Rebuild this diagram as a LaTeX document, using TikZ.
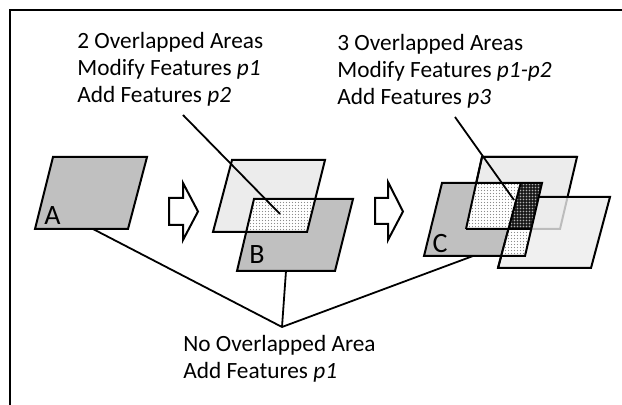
\documentclass[tikz,border=0pt]{standalone}
\usepackage{fontspec}
\setmainfont{Carlito}
\usetikzlibrary{patterns.meta}
\definecolor{sheetgray}{RGB}{192,192,192}
\definecolor{sheetlight}{RGB}{236,236,236}
% fine dot rasters used for the overlap areas
\tikzdeclarepattern{
  name=finedots,
  type=uncolored,
  bottom left={(-0.1pt,-0.1pt)},
  top right={(1.6pt,1.6pt)},
  tile size={(1.5pt,1.5pt)},
  code={\fill (0.75pt,0.75pt) circle (0.33pt);}
}
\tikzdeclarepattern{
  name=bigdots,
  type=uncolored,
  bottom left={(-0.1pt,-0.1pt)},
  top right={(1.6pt,1.6pt)},
  tile size={(1.5pt,1.5pt)},
  code={\fill (0.75pt,0.75pt) circle (0.42pt);}
}
\begin{document}
\begin{tikzpicture}[x=0.5pt,y=-0.5pt,
  txt/.style={anchor=base west, inner sep=0pt, font=\fontsize{11.65}{14}\selectfont},
  lbl/.style={inner sep=0pt, font=\fontsize{14}{16}\selectfont},
  edge/.style={line width=1pt, line join=miter},
  link/.style={line width=0.9pt},
  blockarrow/.style={draw, fill=white, line width=1pt, line join=miter},
  dotted area/.style={fill=white, postaction={pattern=finedots, pattern color=black!45}},
  dark area/.style={fill=black!90, postaction={pattern=bigdots, pattern color=white!70!black}}]

\useasboundingbox (0,0) rectangle (622,405);

% frame (top and left sides)
\draw[line width=1.1pt] (10,405) -- (10,10) -- (622,10);

% ---------- sheet A ----------
\coordinate (aBL) at (35,229);  \coordinate (aBR) at (128,229);
\coordinate (aTR) at (147,157); \coordinate (aTL) at (53,157);
\filldraw[edge, fill=sheetgray] (aBL) -- (aBR) -- (aTR) -- (aTL) -- cycle;
\node[lbl] (labA) at (52.5,216) {A};

% ---------- first block arrow ----------
\draw[blockarrow] (169,198) -- (183,198) -- (183,183) -- (198,211.5)
  -- (183,240) -- (183,225) -- (169,225) -- cycle;

% ---------- sheets of step B ----------
\coordinate (bBL) at (213,232); \coordinate (bBR) at (307,232);
\coordinate (bTR) at (325,160); \coordinate (bTL) at (232,160);
\coordinate (gBL) at (237,271); \coordinate (gBR) at (335,271);
\coordinate (gTR) at (353,199); \coordinate (gTL) at (254,199);
\fill[sheetlight] (bBL) -- (bBR) -- (bTR) -- (bTL) -- cycle;
\fill[sheetgray] (gBL) -- (gBR) -- (gTR) -- (gTL) -- cycle;
\coordinate (oTR) at (intersection of bTR--bBR and gTL--gTR);
\coordinate (oBL) at (intersection of gTL--gBL and bBL--bBR);
\path[dotted area] (gTL) -- (oTR) -- (bBR) -- (oBL) -- cycle;
\draw[edge] (bBL) -- (bBR) -- (bTR) -- (bTL) -- cycle;
\draw[edge] (gBL) -- (gBR) -- (gTR) -- (gTL) -- cycle;
\node[lbl] (labB) at (257,255) {B};

% ---------- second block arrow ----------
\draw[blockarrow] (375,198) -- (388,198) -- (388,182) -- (403,211.5)
  -- (388,240) -- (388,224) -- (375,224) -- cycle;

% ---------- sheets of step C ----------
\coordinate (sBL) at (466,229); \coordinate (sBR) at (560,229);
\coordinate (sTR) at (577,157); \coordinate (sTL) at (482,157);
\coordinate (cBL) at (424,256); \coordinate (cBR) at (525,256);
\coordinate (cTR) at (542,183); \coordinate (cTL) at (442,183);
\coordinate (tBL) at (498,268); \coordinate (tBR) at (591,268);
\coordinate (tTR) at (610,197); \coordinate (tTL) at (517,197);

\filldraw[edge, fill=sheetlight] (sBL) -- (sBR) -- (sTR) -- (sTL) -- cycle;
\fill[sheetgray] (cBL) -- (cBR) -- (cTR) -- (cTL) -- cycle;
\fill[sheetlight, fill opacity=0.8] (tBL) -- (tBR) -- (tTR) -- (tTL) -- cycle;
\draw[edge] (tBL) -- (tBR) -- (tTR) -- (tTL) -- cycle;

% corner points of the overlap areas
\coordinate (k1) at (intersection of sBL--sTL and cTL--cTR);
\coordinate (k2) at (intersection of tBL--tTL and cTL--cTR);
\coordinate (k3) at (intersection of tBL--tTL and sBL--sBR);
\coordinate (k4) at (intersection of cBR--cTR and sBL--sBR);
\coordinate (k5) at (intersection of tBL--tTL and cBL--cBR);

\path[dotted area] (k1) -- (k2) -- (k3) -- (sBL) -- cycle;
\path[dotted area] (k3) -- (k4) -- (cBR) -- (k5) -- cycle;
\path[dark area] (k2) -- (cTR) -- (k4) -- (k3) -- cycle;

\draw[edge] (cBL) -- (cBR) -- (cTR) -- (cTL) -- cycle;
\draw[edge] (sBL) -- (sTL) -- (sTR);
\draw[edge] (sBL) -- (k4);
\draw[edge] (k2) -- (k3) -- (tBL);
\node[lbl] (labC) at (440,244) {C};

% ---------- texts ----------
\node[txt] (l1) at (77,49)  {2 Overlapped Areas};
\node[txt] (l2) at (77,76)  {Modify Features \textit{p1}};
\node[txt] (l3) at (77,103) {Add Features \textit{p2}};
\node[txt] (r1) at (337,51)  {3 Overlapped Areas};
\node[txt] (r2) at (337,78)  {Modify Features \textit{p1-p2}};
\node[txt] (r3) at (337,105) {Add Features \textit{p3}};
\node[txt] (n1) at (183,352) {No Overlapped Area};
\node[txt] (n2) at (183,379) {Add Features \textit{p1}};

% ---------- pointer lines ----------
\coordinate (twoStart) at (183,115);
\coordinate (twoEnd) at (280,214);
\coordinate (threeStart) at (455,117);
\coordinate (threeEnd) at (514,200);
\draw[link] (twoStart) -- (twoEnd);
\draw[link] (threeStart) -- (threeEnd);

\coordinate (hub) at (282,327);
\coordinate (footA) at (93,229);
\coordinate (footB) at (286,271);
\coordinate (footC) at (473,256);
\draw[link] (footA) -- (hub) -- (footC);
\draw[link] (footB) -- (hub);
\end{tikzpicture}
\end{document}
